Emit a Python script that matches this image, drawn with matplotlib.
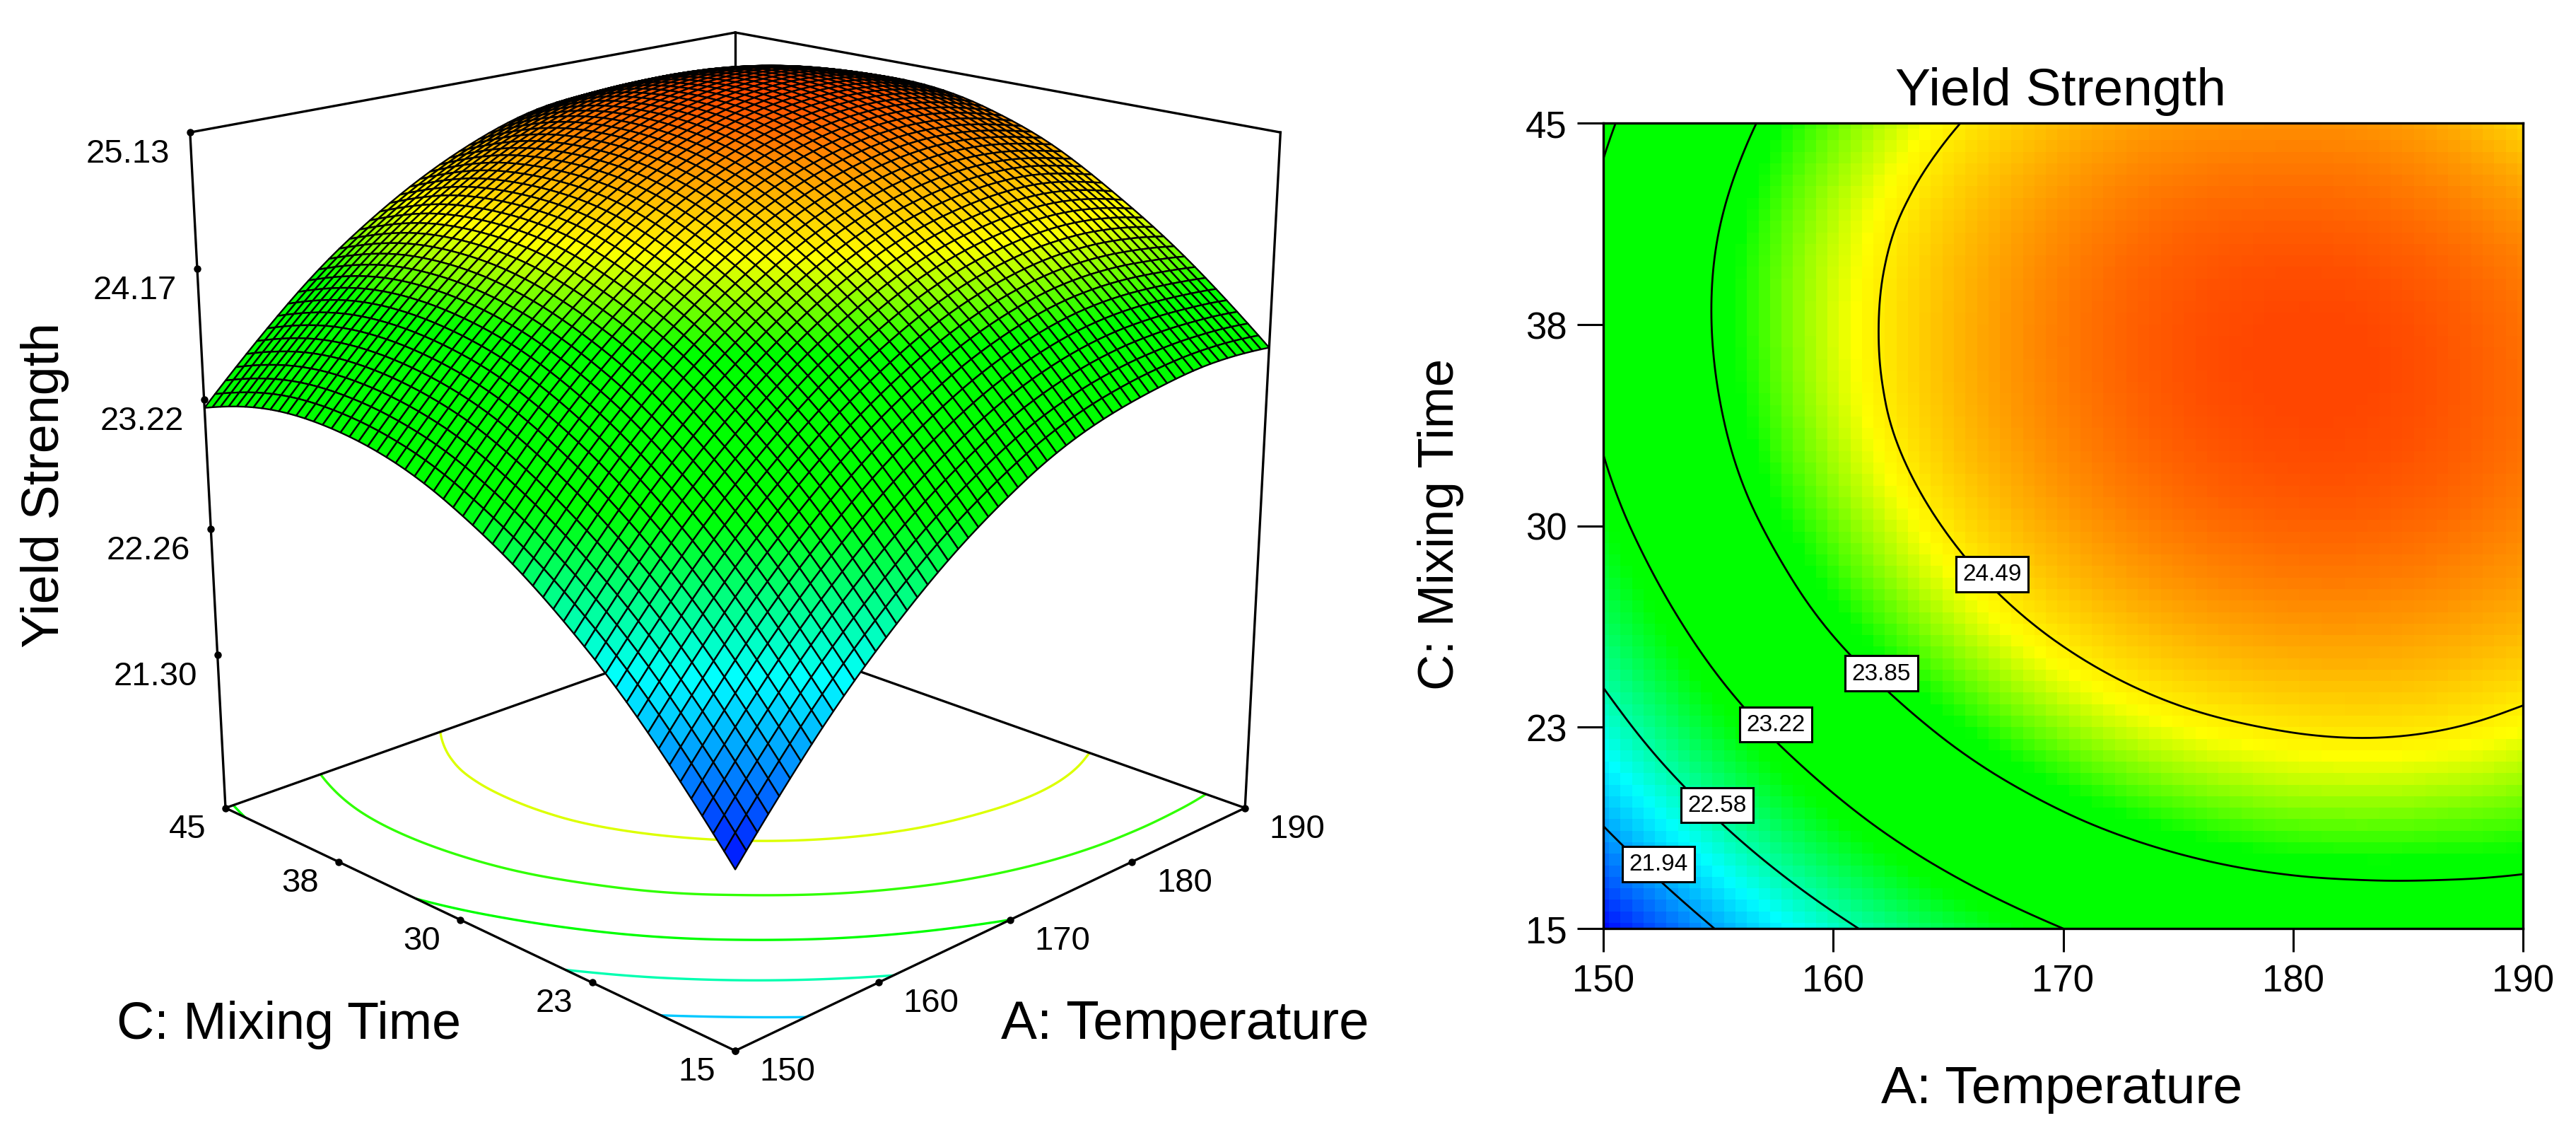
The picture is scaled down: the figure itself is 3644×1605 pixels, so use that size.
#!/usr/bin/env python3
# response surface + contour view of yield strength
import numpy as np
import matplotlib
matplotlib.use("Agg")
import matplotlib.pyplot as plt
import matplotlib.tri as mtri
from matplotlib.colors import LinearSegmentedColormap, Normalize
from mpl_toolkits.mplot3d import proj3d

W, H = 3644, 1606
plt.rcParams['font.family'] = ['Liberation Sans', 'DejaVu Sans']

temp_grid = [150, 155, 160, 165, 170, 175, 180, 185, 190]
time_grid = [15, 18.75, 22.5, 26.25, 30, 33.75, 37.5, 41.25, 45]
# one row per time_grid entry
yield_table = [
    [21.34, 21.96, 22.48, 22.90, 23.22, 23.44, 23.56, 23.62, 23.60],
    [21.93, 22.54, 23.05, 23.46, 23.77, 23.98, 24.09, 24.10, 24.05],
    [22.42, 23.02, 23.51, 23.91, 24.21, 24.41, 24.51, 24.52, 24.42],
    [22.80, 23.39, 23.88, 24.26, 24.55, 24.74, 24.83, 24.82, 24.72],
    [23.08, 23.66, 24.13, 24.51, 24.79, 24.97, 25.05, 25.03, 24.91],
    [23.26, 23.82, 24.29, 24.66, 24.92, 25.09, 25.16, 25.13, 25.00],
    [23.33, 23.88, 24.34, 24.69, 24.95, 25.11, 25.17, 25.13, 24.99],
    [23.30, 23.84, 24.29, 24.63, 24.88, 25.03, 25.07, 25.02, 24.87],
    [23.16, 23.69, 24.13, 24.46, 24.70, 24.84, 24.87, 24.81, 24.58],
]
contour_levels = [21.94, 22.58, 23.22, 23.85, 24.49]
level_names = ['21.94', '22.58', '23.22', '23.85', '24.49']
floor_colors = ['#00c8ff', '#00ffb0', '#00ff00', '#30ff00', '#dcff00']
label_temp = [152.4, 154.95, 157.5, 162.1, 166.9]
label_time = [17.4, 19.6, 22.6, 24.5, 28.2]
temp_ticks = [150, 160, 170, 180, 190]
time_ticks = [15, 22.5, 30, 37.5, 45]
time_names = ['15', '23', '30', '38', '45']
yield_ticks = [21.30, 22.26, 23.22, 24.17, 25.13]
yield_names = ['21.30', '22.26', '23.22', '24.17', '25.13']
yield_floor = 20.1

cm_stops = [21.3, 22.3, 23.12, 23.95, 24.42, 25.17]
cm_colors = ['#0000ff', '#00ffff', '#00ff00', '#00ff00', '#ffff00', '#ff4600']
norm = Normalize(cm_stops[0], cm_stops[-1])
cmap = LinearSegmentedColormap.from_list(
    'de', [(norm(v), c) for v, c in zip(cm_stops, cm_colors)], N=512)

# the read-off table is smoothed by matplotlib's tri interpolator for drawing
tg, cg = np.meshgrid(temp_grid, time_grid)
tr = mtri.Triangulation(tg.ravel(), cg.ravel())
smooth = mtri.CubicTriInterpolator(tr, np.array(yield_table).ravel(), kind='min_E')


def sample(nt, nc):
    tt, cc = np.meshgrid(np.linspace(150, 190, nt), np.linspace(15, 45, nc))
    return tt, cc, np.ma.filled(smooth(tt, cc), np.nan)


def figtext(px, py, s, **kw):
    fig.text(px / W, 1 - py / H, s, ha='center', va='center', **kw)


fig = plt.figure(figsize=(W / 100, H / 100), dpi=100, facecolor='white')

# ---- left, 3D surface
size3d = 1745
ax = fig.add_axes([144 / W, (H - 1578) / H, size3d / W, size3d / H],
                  projection='3d', computed_zorder=False,
                  proj_type='persp', focal_length=0.495)
ax.set_box_aspect((1, 1, 0.953))
ax.view_init(elev=18.2, azim=-135)
ax.set_xlim(150, 190)
ax.set_ylim(15, 45)
ax.set_zlim(yield_floor, yield_ticks[-1])
ax.set_axis_off()
ax.patch.set_alpha(0)

T, C, Y = sample(56, 56)
tc, cc, yc = sample(121, 121)
ax.contour(tc, cc, yc, levels=contour_levels, zdir='z', offset=yield_floor,
           colors=floor_colors, linewidths=2.4, zorder=1)
ax.plot_surface(T, C, Y, rstride=1, cstride=1, cmap=cmap, norm=norm, shade=False,
                edgecolor='black', linewidth=1.7, antialiased=True, zorder=2)

zt = yield_ticks[-1]
box_back = [
    ([150, 190], [45, 45], [yield_floor, yield_floor]),
    ([190, 190], [15, 45], [yield_floor, yield_floor]),
    ([190, 190], [45, 45], [yield_floor, zt]),
    ([150, 190], [45, 45], [zt, zt]),
    ([190, 190], [15, 45], [zt, zt]),
]
box_front = [
    ([150, 150], [45, 45], [yield_floor, zt]),
    ([190, 190], [15, 15], [yield_floor, zt]),
    ([150, 150], [15, 45], [yield_floor, yield_floor]),
    ([150, 190], [15, 15], [yield_floor, yield_floor]),
]
for xs, ys, zs in box_back:
    ax.plot(xs, ys, zs, color='black', lw=2.4, zorder=1)
for xs, ys, zs in box_front:
    ax.plot(xs, ys, zs, color='black', lw=2.4, zorder=3)

M = ax.get_proj()


def tick3d(x, y, z, s, dx, dy):
    ax.plot([x], [y], [z], 'o', color='black', ms=6.5, zorder=4)
    px, py, _ = proj3d.proj_transform(x, y, z, M)
    ax.annotate(s, (px, py), xytext=(dx, dy), textcoords='offset pixels',
                ha='center', va='center', fontsize=34, annotation_clip=False)


for v, s in zip(yield_ticks, yield_names):
    tick3d(150, 45, v, s, -88, -30)
for v, s in zip(time_ticks, time_names):
    tick3d(150, v, yield_floor, s, -54, -29)
for v in temp_ticks:
    tick3d(v, 15, yield_floor, str(v), 74, -29)

figtext(63, 686, 'Yield Strength', fontsize=53, rotation=90)
figtext(409, 1450, 'C: Mixing Time', fontsize=53)
figtext(1676, 1450, 'A: Temperature', fontsize=55)

# ---- right, contour map
ax2 = fig.add_axes([2268 / W, (H - 1314) / H, (3569 - 2268) / W, (1314 - 175) / H])
t2, c2, y2 = sample(81, 71)
ax2.pcolormesh(t2, c2, y2, cmap=cmap, norm=norm, shading='nearest', rasterized=True)
ax2.contour(tc, cc, yc, levels=contour_levels, colors='black', linewidths=2.0)
ax2.set_xlim(150, 190)
ax2.set_ylim(15, 45)
ax2.set_xticks(temp_ticks)
ax2.set_xticklabels([str(v) for v in temp_ticks])
ax2.set_yticks(time_ticks)
ax2.set_yticklabels(time_names)
ax2.tick_params(axis='x', length=24, width=2.2, labelsize=38, pad=12)
ax2.tick_params(axis='y', length=27, width=2.2, labelsize=38, pad=10)
for sp in ax2.spines.values():
    sp.set_linewidth(2.4)
for a, c, s in zip(label_temp, label_time, level_names):
    ax2.text(a, c, s, fontsize=24, ha='center', va='center', zorder=6,
             bbox=dict(boxstyle='square,pad=0.28', fc='white', ec='black', lw=2.2))

figtext(2915, 130, 'Yield Strength', fontsize=54)
figtext(2917, 1541, 'A: Temperature', fontsize=54)
figtext(2038, 741, 'C: Mixing Time', fontsize=51, rotation=90)

fig.savefig('out.png', dpi=100, facecolor='white')
